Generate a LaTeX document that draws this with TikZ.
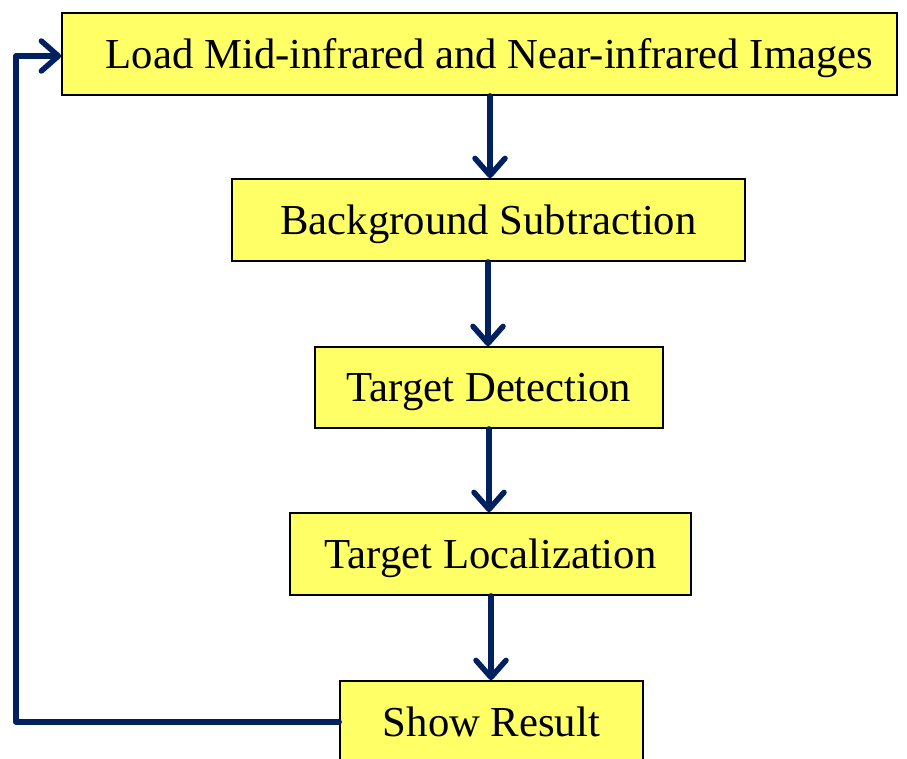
\documentclass[tikz,border=0pt]{standalone}
\usepackage{fontspec}
\setmainfont{Liberation Serif}
\usetikzlibrary{arrows.meta}
\definecolor{boxfill}{HTML}{FFFF66}
\definecolor{navy}{HTML}{002060}
\begin{document}
\begin{tikzpicture}[x=1pt,y=-1pt,
  stepbox/.style={draw=black, line width=1.8pt, fill=boxfill, inner sep=0pt, text height=28pt, text depth=0pt, font=\fontsize{42.7}{48}\selectfont},
  arr/.style={draw=navy, line width=5.5pt, line cap=round, line join=round, -{Straight Barb[length=17pt,width=30pt,line cap=round,line join=round]}}]
\useasboundingbox (0,0) rectangle (907,758);
\begin{scope}
\clip (0,0) rectangle (907,758);
\node[stepbox, minimum width=835pt, minimum height=82pt] (load) at (479.5,54) {\hspace*{20pt}Load Mid-infrared and Near-infrared Images};
\node[stepbox, minimum width=513pt, minimum height=82pt] (bg) at (488.5,220) {Background Subtraction};
\node[stepbox, minimum width=348pt, minimum height=81pt] (det) at (489,387.5) {Target Detection};
\node[stepbox, minimum width=401pt, minimum height=82pt] (loc) at (490.5,554) {Target Localization};
\node[stepbox, minimum width=303pt, minimum height=82pt] (show) at (491.5,722) {Show Result};
\coordinate (lb) at (16,722);
\coordinate (lt) at (16,56);
\draw[arr] (load.south -| 490,0) -- (bg.north -| 490,0);
\draw[arr] (bg.south -| 488,0) -- (det.north -| 488,0);
\draw[arr] (det.south -| 489,0) -- (loc.north -| 489,0);
\draw[arr] (loc.south -| 491,0) -- (show.north -| 491,0);
\draw[arr] (show.west) -- (lb) -- (lt) -- (load.west |- lt);
\end{scope}
\end{tikzpicture}
\end{document}
